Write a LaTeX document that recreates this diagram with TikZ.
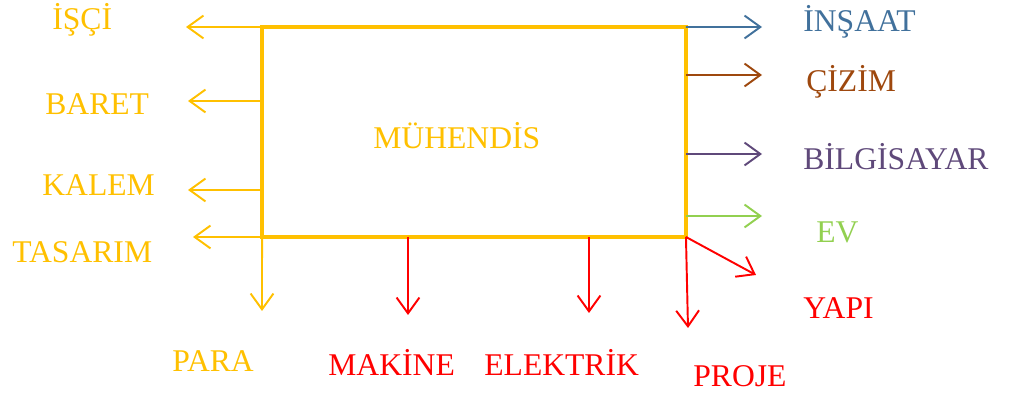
\documentclass[tikz,border=0pt]{standalone}
\usepackage{fontspec}
\setmainfont{Liberation Serif}
\usetikzlibrary{arrows.meta}

\definecolor{gold}{HTML}{FFC000}
\definecolor{steel}{HTML}{41719C}
\definecolor{rust}{HTML}{9E480E}
\definecolor{plum}{HTML}{5F497A}
\definecolor{leaf}{HTML}{92D050}
\definecolor{brightred}{HTML}{FF0000}

\tikzset{
  word/.style={font=\fontsize{18}{20}\selectfont, inner sep=0pt, anchor=base west},
  branch/.style={line width=1.1pt, -{Straight Barb[length=9pt,width=13pt,line width=1.1pt]}},
}

\begin{document}
\begin{tikzpicture}[x=0.02cm, y=-0.02cm]
  \useasboundingbox (0,0) rectangle (1014,398);

  %% the main box
  \node [draw=gold, line width=2.3pt, minimum width=8.48cm, minimum height=4.2cm, inner sep=0pt, outer sep=0pt] (box) at (474,132) {};
  \node [word, text=gold] (muh) at (373,149) {MÜHENDİS};

  %% left side
  \coordinate (isciTip) at (186,27);
  \coordinate (baretTip) at (188,101);
  \coordinate (kalemTip) at (188,190);
  \coordinate (tasarimTip) at (193,237);
  \coordinate (paraTip) at (262,311);
  \draw [branch, gold] (box.north west) -- (isciTip);
  \draw [branch, gold] (baretTip -| box.west) -- (baretTip);
  \draw [branch, gold] (kalemTip -| box.west) -- (kalemTip);
  \draw [branch, gold] (box.south west) -- (tasarimTip);
  \draw [branch, gold] (box.south west) -- (paraTip);
  \node [word, text=gold] (isci) at (52,30) {İŞÇİ};
  \node [word, text=gold] (baret) at (45,115) {BARET};
  \node [word, text=gold] (kalem) at (42,196) {KALEM};
  \node [word, text=gold] (tasarim) at (12,263) {TASARIM};
  \node [word, text=gold] (para) at (172,372) {PARA};

  %% right side
  \coordinate (insaatTip) at (762,27);
  \coordinate (cizimTip) at (762,75);
  \coordinate (bilgiTip) at (762,154);
  \coordinate (evTip) at (762,216);
  \coordinate (yapiTip) at (756,275);
  \coordinate (projeTip) at (688,328);
  \draw [branch, steel] (box.north east) -- (insaatTip);
  \draw [branch, rust] (cizimTip -| box.east) -- (cizimTip);
  \draw [branch, plum] (bilgiTip -| box.east) -- (bilgiTip);
  \draw [branch, leaf] (evTip -| box.east) -- (evTip);
  \draw [branch, brightred] (box.south east) -- (yapiTip);
  \draw [branch, brightred] (box.south east) -- (projeTip);
  \node [word, text=steel] (insaat) at (803,32) {İNŞAAT};
  \node [word, text=rust] (cizim) at (806,92) {ÇİZİM};
  \node [word, text=plum] (bilgi) at (803,170) {BİLGİSAYAR};
  \node [word, text=leaf] (ev) at (816,243) {EV};
  \node [word, text=brightred] (yapi) at (803,319) {YAPI};
  \node [word, text=brightred] (proje) at (693,387) {PROJE};

  %% bottom side
  \coordinate (makineTip) at (408,315);
  \coordinate (elektrikTip) at (589,313);
  \draw [branch, brightred] (makineTip |- box.south) -- (makineTip);
  \draw [branch, brightred] (elektrikTip |- box.south) -- (elektrikTip);
  \node [word, text=brightred] (makine) at (328,376) {MAKİNE};
  \node [word, text=brightred] (elektrik) at (484,376) {ELEKTRİK};
\end{tikzpicture}
\end{document}
